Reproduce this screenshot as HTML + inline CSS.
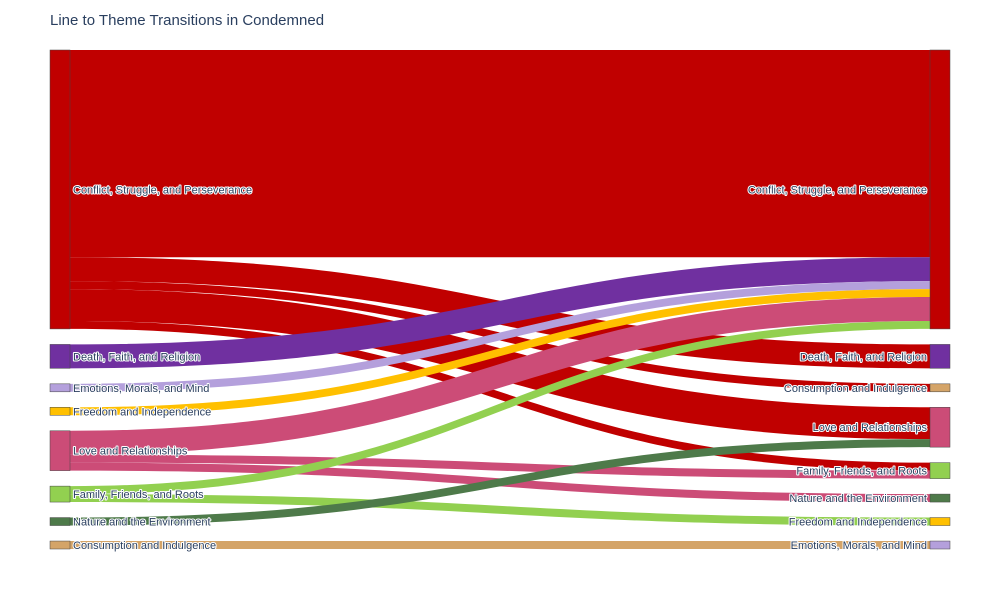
<!DOCTYPE html>
<html><head><meta charset="utf-8">
<style>
body{margin:0;background:#fff;font-family:"Liberation Sans",Arial,sans-serif;}
svg text{font-family:"Liberation Sans",Arial,sans-serif;}
.lbl{font-size:11px;fill:#2a3f5f;paint-order:stroke;stroke:#fff;stroke-width:2px;stroke-linejoin:round;}
</style></head>
<body>
<svg id="chart" width="1000" height="600">
<text x="50" y="25" font-size="15" fill="#2a3f5f">Line to Theme Transitions in Condemned</text>
<g id="links"></g><g id="nodes"></g>
</svg>
<script>
const themes = ["Conflict, Struggle, and Perseverance","Death, Faith, and Religion","Emotions, Morals, and Mind","Freedom and Independence","Love and Relationships","Family, Friends, and Roots","Nature and the Environment","Consumption and Indulgence"];
const colors = ["#c00000","#7030a0","#b4a0dc","#ffc000","#cc4c77","#92d050","#4e7a4a","#d4a468"];
const leftOrder = [0,1,2,3,4,5,6,7];
const rightOrder = [0,1,7,4,5,6,3,2];
const linkSource = [0,0,0,0,0,1,2,3,4,4,4,5,5,6,7];
const linkTarget = [0,1,7,4,5,0,0,0,0,5,6,0,3,4,2];
const linkValue  = [26,3,1,4,1,3,1,1,3,1,1,1,1,1,1];

const NS="http://www.w3.org/2000/svg";
const top0=50, bottom=549, gap=15.5;
const xL0=50,xL1=70,xR0=930,xR1=950;
function totals(side){const t=themes.map(()=>0);linkValue.forEach((v,i)=>{t[side?linkTarget[i]:linkSource[i]]+=v;});return t;}
const tL=totals(0), tR=totals(1);
const sumAll=tL.reduce((a,b)=>a+b,0);
const k=(bottom-top0-gap*(themes.length-1))/sumAll;
function place(order,t){const y={};let c=top0;order.forEach(n=>{y[n]=c;c+=t[n]*k+gap;});return y;}
const yL=place(leftOrder,tL), yR=place(rightOrder,tR);
const rankR={},rankL={};rightOrder.forEach((n,i)=>rankR[n]=i);leftOrder.forEach((n,i)=>rankL[n]=i);
const idx=linkValue.map((_,i)=>i);
const sOff={},tOff={};
const ls=document.getElementById('links');
const bySrc=[...idx].sort((a,b)=>rankL[linkSource[a]]-rankL[linkSource[b]]||rankR[linkTarget[a]]-rankR[linkTarget[b]]);
const sy={};const curS={};
bySrc.forEach(i=>{const s=linkSource[i];curS[s]=curS[s]||0;sy[i]=yL[s]+curS[s];curS[s]+=linkValue[i]*k;});
const byTgt=[...idx].sort((a,b)=>rankR[linkTarget[a]]-rankR[linkTarget[b]]||rankL[linkSource[a]]-rankL[linkSource[b]]);
const ty={};const curT={};
byTgt.forEach(i=>{const t=linkTarget[i];curT[t]=curT[t]||0;ty[i]=yR[t]+curT[t];curT[t]+=linkValue[i]*k;});
idx.forEach(i=>{
  const h=linkValue[i]*k, a=sy[i], b=ty[i], xm=(xL1+xR0)/2;
  const p=document.createElementNS(NS,'path');
  p.setAttribute('d',`M${xL1},${a}C${xm},${a} ${xm},${b} ${xR0},${b}L${xR0},${b+h}C${xm},${b+h} ${xm},${a+h} ${xL1},${a+h}Z`);
  p.setAttribute('fill',colors[linkSource[i]]);
  
  
  ls.appendChild(p);
});
const ns=document.getElementById('nodes');
function node(x0,x1,y,h,n,side){
  const r=document.createElementNS(NS,'rect');
  r.setAttribute('x',x0);r.setAttribute('y',y);r.setAttribute('width',x1-x0);r.setAttribute('height',h);
  r.setAttribute('fill',colors[n]);r.setAttribute('stroke','#444');r.setAttribute('stroke-width','0.5');
  
  
  ns.appendChild(r);
  const t=document.createElementNS(NS,'text');
  t.setAttribute('class','lbl');
  t.setAttribute('x',side?927:73);t.setAttribute('y',y+h/2+4);
  if(side)t.setAttribute('text-anchor','end');
  t.textContent=themes[n];
  
  
  ns.appendChild(t);
}
leftOrder.forEach(n=>node(xL0,xL1,yL[n],tL[n]*k,n,0));
rightOrder.forEach(n=>node(xR0,xR1,yR[n],tR[n]*k,n,1));
</script>
</body></html>
